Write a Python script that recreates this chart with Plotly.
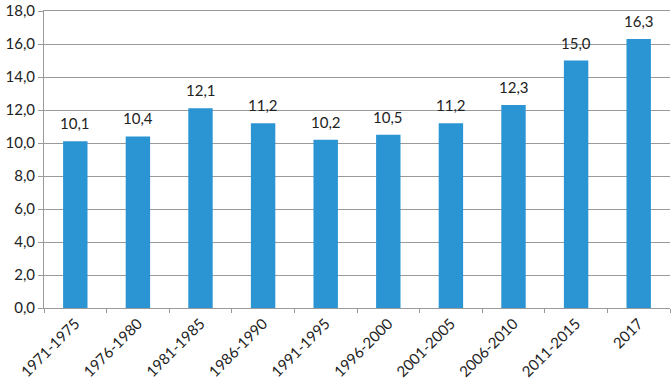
import plotly.graph_objects as go

categories = ["1971-1975", "1976-1980", "1981-1985", "1986-1990", "1991-1995",
              "1996-2000", "2001-2005", "2006-2010", "2011-2015", "2017"]
values = [10.1, 10.4, 12.1, 11.2, 10.2, 10.5, 11.2, 12.3, 15.0, 16.3]
y_ticks = [0, 2, 4, 6, 8, 10, 12, 14, 16, 18]

FONT = "Lato, 'Open Sans', sans-serif"

fig = go.Figure(go.Bar(
    x=categories, y=values,
    marker=dict(color="#2B95D3", line=dict(width=0)),
    width=0.39,
    hoverinfo="skip",
))

for i, v in enumerate(values):
    fig.add_annotation(
        x=i, y=v, xref="x", yref="y", text=f"{v:.1f}".replace(".", ","),
        showarrow=False, yanchor="bottom", yshift=7,
        font=dict(family=FONT, size=15, color="#222222"),
    )

fig.update_layout(
    width=672, height=380,
    margin=dict(l=44, r=2, t=11, b=72),
    paper_bgcolor="white", plot_bgcolor="white",
    separators=",.",
    font=dict(family=FONT, size=15, color="#222222"),
    showlegend=False,
)
fig.update_yaxes(
    range=[0, 18], tickvals=y_ticks, tickformat=".1f",
    showgrid=True, gridcolor="#9a9a9a", gridwidth=1,
    showline=True, linecolor="#9a9a9a", linewidth=1,
    ticks="outside", ticklen=5, tickcolor="#9a9a9a",
    zeroline=False, tickfont=dict(size=15), automargin=False,
    ticklabeloverflow="allow",
)
fig.update_xaxes(
    type="category", range=[-0.5, 9.5], tickangle=-45, tickson="boundaries",
    ticks="outside", ticklen=4, tickcolor="#9a9a9a",
    showline=True, linecolor="#9a9a9a", linewidth=1, mirror=True,
    showgrid=False, tickfont=dict(size=15), automargin=False,
    ticklabeloverflow="allow",
)

fig.write_html("out.html", config={"displayModeBar": False, "staticPlot": True},
               post_script="document.body.style.margin='0';")
